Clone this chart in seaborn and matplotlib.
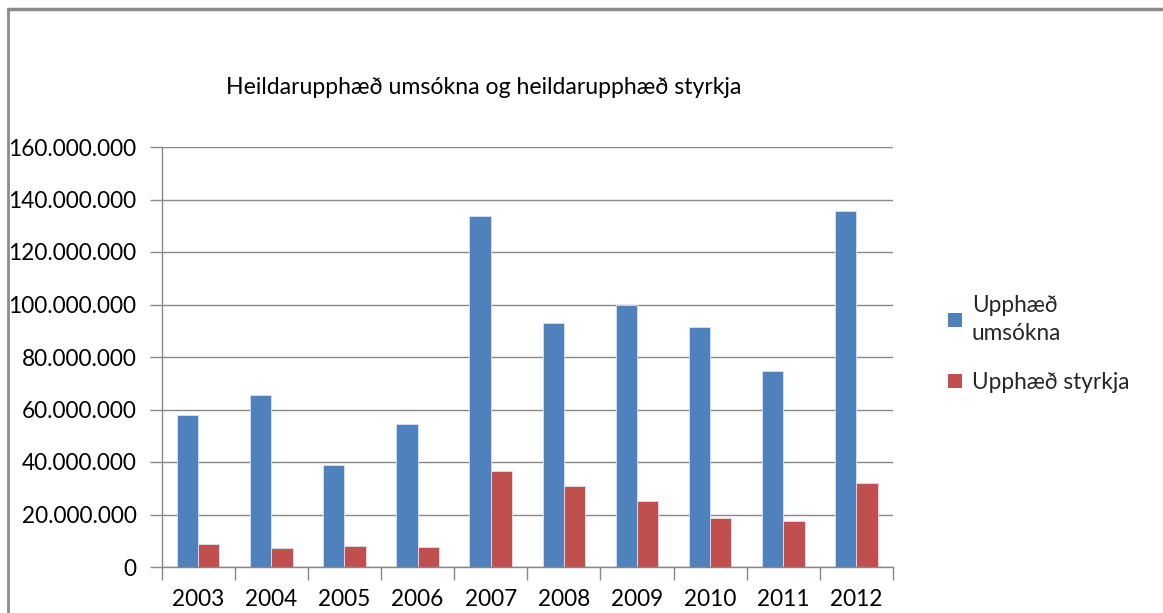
import matplotlib
matplotlib.use("Agg")
import matplotlib.pyplot as plt
from matplotlib.ticker import FuncFormatter, FixedLocator
from matplotlib.lines import Line2D
from matplotlib.patches import Patch
import seaborn as sns
import pandas as pd

years = ["2003", "2004", "2005", "2006", "2007", "2008", "2009", "2010", "2011", "2012"]
umsokna = [57.9e6, 65.4e6, 38.9e6, 54.3e6, 133.8e6, 93.0e6, 99.8e6, 91.6e6, 74.8e6, 135.6e6]
styrkja = [8.6e6, 7.4e6, 8.1e6, 7.7e6, 36.7e6, 30.7e6, 25.0e6, 18.8e6, 17.5e6, 32.1e6]
series_names = ["Upphæð umsókna", "Upphæð styrkja"]
legend_labels = ["Upphæð\numsókna", "Upphæð styrkja"]
title = "Heildarupphæð umsókna og heildarupphæð styrkja"
colors = ["#4F81BD", "#C0504D"]

df = pd.DataFrame({
    "year": years * 2,
    "value": umsokna + styrkja,
    "series": [series_names[0]] * len(years) + [series_names[1]] * len(years),
})

sns.set_theme(style="white")
plt.rcParams["font.family"] = ["Lato", "DejaVu Sans"]

fig = plt.figure(figsize=(11.63, 6.13), dpi=100)
ax = fig.add_axes([161.5 / 1163, 46 / 613, (893 - 161.5) / 1163, 420 / 613])

sns.barplot(data=df, x="year", y="value", hue="series", palette=colors,
            width=0.583, dodge=True, ax=ax, legend=False,
            edgecolor="#D9E2F0", linewidth=0.6, saturation=1)

ax.set_ylim(0, 160e6)
ax.set_xlim(-0.5, len(years) - 0.5)
ax.set_yticks([i * 20e6 for i in range(9)])
ax.yaxis.set_major_formatter(FuncFormatter(lambda v, p: f"{v:,.0f}".replace(",", ".")))
ax.yaxis.grid(True, color="#888888", linewidth=1.0)
ax.set_axisbelow(True)
ax.set_xlabel("")
ax.set_ylabel("")

for s in ["top", "right"]:
    ax.spines[s].set_visible(False)
for s in ["left", "bottom"]:
    ax.spines[s].set_color("#888888")
    ax.spines[s].set_linewidth(1.0)

ax.tick_params(axis="y", which="major", length=9, width=1, color="#888888",
               labelsize=16.3, labelcolor="black", pad=9, direction="out", left=True)
ax.xaxis.set_minor_locator(FixedLocator([i - 0.5 for i in range(len(years) + 1)]))
ax.tick_params(axis="x", which="minor", length=9, width=1, color="#888888",
               direction="out", bottom=True)
ax.tick_params(axis="x", which="major", length=0, labelsize=16.3, labelcolor="black", pad=16)

fig.text(484 / 1163, 1 - 87 / 613, title, ha="center", va="center", fontsize=16.6, color="black")

handles = [Patch(facecolor=c, edgecolor="none") for c in colors]
leg = fig.legend(handles, legend_labels, loc="upper left",
                 bbox_to_anchor=(939 / 1163, 1 - 286 / 613),
                 frameon=False, fontsize=16.3, handlelength=0.6, handleheight=0.6,
                 handletextpad=0.45, labelspacing=1.25, borderaxespad=0)
for t in leg.get_texts():
    t.set_linespacing(1.4)

# outer chart border (top and left visible)
fig.add_artist(Line2D([8 / 1163, 1], [1 - 9 / 613, 1 - 9 / 613], color="#8C8C8C", linewidth=2.5,
                      transform=fig.transFigure))
fig.add_artist(Line2D([8 / 1163, 8 / 1163], [0, 1 - 9 / 613], color="#8C8C8C", linewidth=2.0,
                      transform=fig.transFigure))

fig.savefig("out.png", dpi=100, facecolor="white")
